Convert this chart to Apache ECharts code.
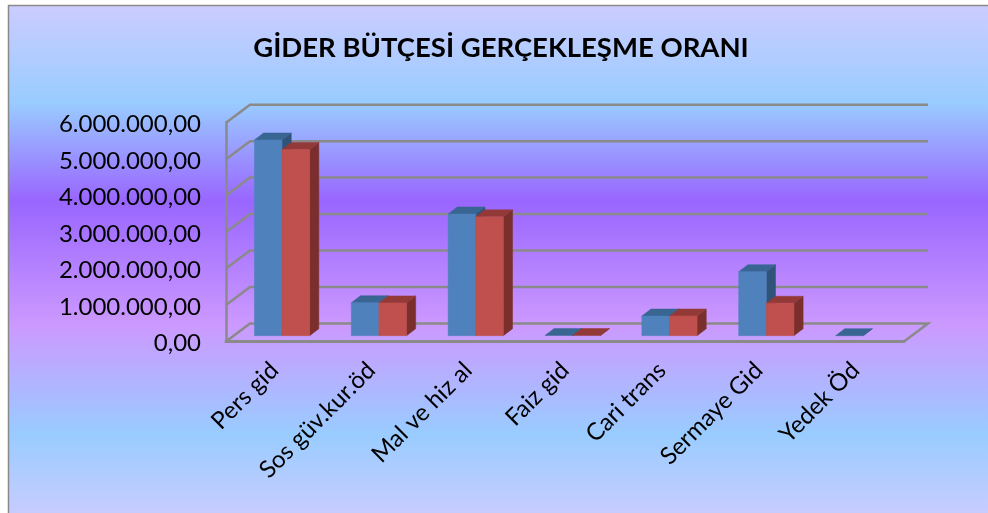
<!DOCTYPE html>
<html><head><meta charset="utf-8">
<style>html,body{margin:0;padding:0;background:#fff}#c{width:988px;height:513px}</style>
<script src="https://cdn.jsdelivr.net/npm/echarts@6/dist/echarts.min.js"></script></head>
<body><div id="c"></div>
<script>
const titleText = 'GİDER BÜTÇESİ GERÇEKLEŞME ORANI';
const categories = ['Pers gid','Sos güv.kur.öd','Mal ve hiz al','Faiz gid','Cari trans','Sermaye Gid','Yedek Öd'];
const seriesA = [5370000, 905000, 3340000, 8000, 540000, 1756000, 0];
const seriesB = [5110000, 900000, 3260000, 5000, 540000, 890000, null];
const tickValues = [0,1000000,2000000,3000000,4000000,5000000,6000000];
const tickLabels = ['0,00','1.000.000,00','2.000.000,00','3.000.000,00','4.000.000,00','5.000.000,00','6.000.000,00'];

const chart = echarts.init(document.getElementById('c'), null, {renderer:'canvas'});
const WALL = [24,-18], BAR_DEPTH = [9.2,-7], BAR_OFF = [7.6,-5.7], BAR_W = 27.6;
const gridColor = '#8a8a8a';
const poly = (pts, fill) => ({type:'polygon', shape:{points:pts}, style:{fill, stroke:fill, lineWidth:0.5}});

function barRenderer(side, front, top, dark){
  return function(params, api){
    const v = api.value(1);
    if (v === null || v === undefined || isNaN(v)) return;
    const c = api.coord([api.value(0), v]);
    const b = api.coord([api.value(0), 0]);
    const x0 = c[0] + BAR_OFF[0] + (side < 0 ? -BAR_W : 0);
    const x1 = x0 + BAR_W;
    const yb = b[1] + BAR_OFF[1], yt = c[1] + BAR_OFF[1];
    const [dx, dy] = BAR_DEPTH;
    const children = [];
    children.push(poly([[x1,yt],[x1+dx,yt+dy],[x1+dx,yb+dy],[x1,yb]], dark));
    children.push(poly([[x0,yt],[x0+dx,yt+dy],[x1+dx,yt+dy],[x1,yt]], top));
    if (yb - yt > 0.5) children.push(poly([[x0,yt],[x1,yt],[x1,yb],[x0,yb]], front));
    return {type:'group', children};
  };
}
function wallRenderer(params, api){
  const v = api.value(0);
  const l = api.coord([0, v]);
  const xL = params.coordSys.x, xR = xL + params.coordSys.width;
  const pts = [[xL, l[1]], [xL + WALL[0], l[1] + WALL[1]], [xR + WALL[0], l[1] + WALL[1]]];
  if (v === 0) pts.push([xR, l[1]]);
  return {type:'polyline', shape:{points:pts}, style:{stroke:gridColor, lineWidth:2.5, fill:null}};
}

chart.setOption({
  animation:false,
  graphic:[{type:'rect', z:-10, silent:true,
    shape:{x:8.5,y:5.5,width:985,height:515},
    style:{stroke:'#8a8a8a', lineWidth:1.5,
      fill:new echarts.graphic.LinearGradient(0,0,0,1,[
        {offset:0,color:'#CCCCFF'},{offset:0.19,color:'#99CCFF'},{offset:0.38,color:'#9966FF'},
        {offset:0.62,color:'#CC99FF'},{offset:0.83,color:'#99CCFF'},{offset:1,color:'#CCCCFF'}])}}],
  title:{text:titleText, left:496, top:29.5, textAlign:'center',
    textStyle:{fontFamily:'Lato', fontWeight:'bold', fontSize:27.5, color:'#000'}},
  grid:{left:226, top:122.7, width:678, height:218.7, containLabel:false},
  xAxis:{type:'category', data:categories, boundaryGap:true,
    axisLine:{lineStyle:{color:gridColor,width:3}}, axisTick:{show:false},
    axisLabel:{rotate:45, interval:0, margin:25, fontFamily:'Lato', fontSize:24, color:'#000'}},
  yAxis:{type:'value', min:0, max:6000000, interval:1000000,
    axisLine:{show:true, lineStyle:{color:gridColor,width:2.5}}, axisTick:{show:false},
    splitLine:{show:false},
    axisLabel:{margin:25, verticalAlign:'top', lineHeight:4, fontFamily:'Lato', fontSize:24, color:'#000',
      formatter:(v)=>tickLabels[tickValues.indexOf(v)]}},
  series:[
    {type:'custom', z:1, clip:false, silent:true, renderItem:wallRenderer, encode:{y:0},
      data:tickValues.map(v=>[v])},
    {type:'custom', z:2, clip:false, silent:true, renderItem:barRenderer(-1,'#4F81BD','#386592','#2F5379'),
      encode:{x:0,y:1}, data:seriesA.map((v,i)=>[i,v])},
    {type:'custom', z:3, clip:false, silent:true, renderItem:barRenderer(1,'#C0504D','#933A38','#7B2F2D'),
      encode:{x:0,y:1}, data:seriesB.map((v,i)=>[i,v])}
  ]
});
</script></body></html>
